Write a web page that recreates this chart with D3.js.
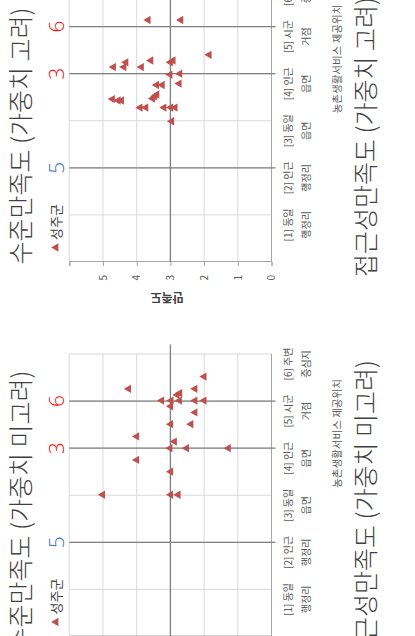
<!DOCTYPE html>
<html>
<head>
<meta charset="utf-8">
<script src="https://cdn.jsdelivr.net/npm/d3@7"></script>
<style>
body { margin:0; background:#fff; }
svg { display:block; font-family:"Noto Sans CJK KR", sans-serif; }
</style>
</head>
<body>
<svg id="chart" width="415" height="636"></svg>
<script>
// category labels (two lines each)
var catLine1 = ["[1] 동일", "[2] 인근", "[3] 동일", "[4] 인근", "[5] 시군", "[6] 주변"];
var catLine2 = ["행정리", "행정리", "읍면", "읍면", "거점", "중심지"];
var valueTicks = [0, 1, 2, 3, 4, 5, 6];

// marked categories with their numbers
var refCats = [2, 4, 5];
var refLabels = ["5", "3", "6"];
var refColors = ["#4472C4", "#FF0000", "#FF0000"];
var refValue = 3;

// 수준만족도 (가중치 미고려)
var unweightedX = [5.52, 5.26, 5.26, 5.13, 5.17, 5.01, 5.01, 5.01, 5.01, 5.01, 4.89, 4.76, 4.51, 4.51, 4.25, 4.14, 4.00, 4.00, 4.00, 3.75, 3.50, 3.01, 3.01, 3.01];
var unweightedY = [2.00, 4.24, 2.27, 2.80, 2.72, 3.26, 2.98, 2.73, 2.27, 2.00, 2.99, 2.27, 2.99, 2.39, 4.00, 2.88, 3.01, 2.52, 1.28, 4.00, 2.99, 5.01, 2.99, 2.77];

// 수준만족도 (가중치 고려)
var weightedX = [5.14, 5.14, 4.40, 4.24, 4.28, 4.24, 4.28, 4.14, 4.14, 4.14, 3.98, 4.00, 3.76, 3.76, 3.79, 3.47, 3.52, 3.56, 3.46, 3.43, 3.43, 3.28, 3.28, 3.28, 3.28, 3.28, 2.99];
var weightedY = [3.66, 2.69, 1.85, 4.32, 3.58, 3.00, 2.92, 4.69, 4.38, 3.86, 3.01, 2.72, 3.41, 3.24, 2.74, 3.53, 3.46, 3.40, 4.72, 4.55, 4.45, 3.90, 3.73, 3.19, 2.99, 2.86, 2.96];

var titles = ["수준만족도 (가중치 미고려)", "수준만족도 (가중치 고려)"];
var nextTitles = ["접근성만족도 (가중치 미고려)", "접근성만족도 (가중치 고려)"];
var legendName = "성주군";
var xTitle = "농촌생활서비스 제공위치";
var yTitle = "만족도";

var svg = d3.select("#chart");
// the whole sheet is turned a quarter to the left
var page = svg.append("g").attr("transform", "translate(0,636) rotate(-90)");

var plotW = 282.5;
var gridColor = "#D9D9D9", axisColor = "#A6A6A6", refColor = "#7F7F7F", textColor = "#595959";

function drawChart(ox, title, xs, ys) {
  var x = d3.scaleLinear().domain([0, 6]).range([ox, ox + plotW]);
  var y = d3.scaleLinear().domain([0, 6]).range([271.5, 69.3]);
  var g = page.append("g");

  // grid
  g.selectAll(".hgrid").data(valueTicks.slice(1)).enter().append("line")
    .attr("x1", x(0)).attr("x2", x(6))
    .attr("y1", function(d){ return y(d); }).attr("y2", function(d){ return y(d); })
    .attr("stroke", gridColor).attr("stroke-width", 1);
  g.selectAll(".vgrid").data(d3.range(1, 7)).enter().append("line")
    .attr("x1", function(d){ return x(d); }).attr("x2", function(d){ return x(d); })
    .attr("y1", y(0)).attr("y2", y(6))
    .attr("stroke", gridColor).attr("stroke-width", 1);

  // value axis
  var yAxis = d3.axisLeft(y).tickValues(valueTicks).tickSize(4).tickPadding(9)
    .tickFormat(function(d){ return d == 6 ? "" : d; });
  var ya = g.append("g").attr("transform", "translate(" + x(0) + ",0)").call(yAxis);
  ya.attr("font-family", null).attr("font-size", 10);
  ya.selectAll("line, path").attr("stroke", axisColor);
  ya.selectAll("text").attr("fill", textColor);

  // category axis line
  g.append("line").attr("x1", x(0)).attr("x2", x(6)).attr("y1", y(0)).attr("y2", y(0))
    .attr("stroke", axisColor);

  // reference lines
  g.append("line").attr("x1", x(0)).attr("x2", x(6.2)).attr("y1", y(refValue)).attr("y2", y(refValue))
    .attr("stroke", refColor).attr("stroke-width", 1.3);
  g.selectAll(".ref").data(refCats).enter().append("line")
    .attr("x1", function(d){ return x(d); }).attr("x2", function(d){ return x(d); })
    .attr("y1", y(6)).attr("y2", y(-0.12))
    .attr("stroke", refColor).attr("stroke-width", 1.3);

  g.selectAll(".refLabel").data(refCats).enter().append("text")
    .attr("x", function(d){ return x(d); }).attr("y", 64)
    .attr("text-anchor", "middle").attr("font-size", 21)
    .attr("font-family", "'Open Sans', sans-serif").attr("font-weight", 300)
    .attr("fill", function(d, i){ return refColors[i]; })
    .text(function(d, i){ return refLabels[i]; });

  // points
  var pts = xs.map(function(v, i){ return {x: v, y: ys[i]}; });
  var tri = d3.symbol().type(d3.symbolTriangle).size(30);
  g.selectAll(".pt").data(pts).enter().append("path")
    .attr("d", tri)
    .attr("transform", function(d){ return "translate(" + x(d.x) + "," + y(d.y) + ")"; })
    .attr("fill", "#C0504D");

  // category labels
  g.selectAll(".cat1").data(catLine1).enter().append("text")
    .attr("x", function(d, i){ return x(i + 1) - 10; }).attr("y", 292)
    .attr("text-anchor", "middle").attr("font-size", 10).attr("fill", textColor)
    .text(function(d){ return d; });
  g.selectAll(".cat2").data(catLine2).enter().append("text")
    .attr("x", function(d, i){ return x(i + 1) - 10; }).attr("y", 310)
    .attr("text-anchor", "middle").attr("font-size", 10).attr("fill", textColor)
    .text(function(d){ return d; });

  g.append("text").attr("x", ox + 203).attr("y", 341)
    .attr("text-anchor", "middle").attr("font-size", 10.5).attr("fill", textColor)
    .text(xTitle);

  g.append("text")
    .attr("transform", "translate(" + (ox - 31) + ",167) rotate(-90)")
    .attr("text-anchor", "middle").attr("font-size", 12).attr("font-weight", "bold")
    .attr("fill", "#404040").text(yTitle);

  // legend
  g.append("path").attr("d", d3.symbol().type(d3.symbolTriangle).size(30))
    .attr("transform", "translate(" + (ox + 14.5) + ",56)").attr("fill", "#C0504D");
  g.append("text").attr("x", ox + 22).attr("y", 61).attr("font-size", 13)
    .attr("fill", "#404040").text(legendName);

  // title
  g.append("text").attr("x", ox + 126).attr("y", 30)
    .attr("text-anchor", "middle").attr("font-size", 25).attr("font-weight", 300)
    .attr("fill", "#404040").text(title);
}

drawChart(-0.5, titles[0], unweightedX, unweightedY);
drawChart(374, titles[1], weightedX, weightedY);

// titles of the next row of charts
page.selectAll(".next").data(nextTitles).enter().append("text")
  .attr("x", function(d, i){ return (i == 0 ? -0.5 : 374) + 125; }).attr("y", 375)
  .attr("text-anchor", "middle").attr("font-size", 25).attr("font-weight", 300)
  .attr("fill", "#404040").text(function(d){ return d; });
</script>
</body>
</html>
